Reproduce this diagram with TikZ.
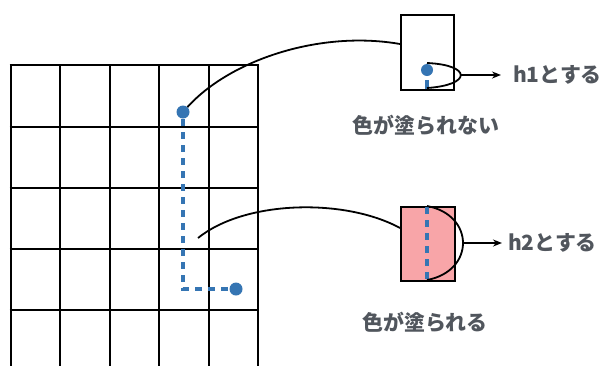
\documentclass[tikz,border=0pt]{standalone}
\usepackage{fontspec}
\newfontfamily\jp{Noto Sans CJK JP}
\usetikzlibrary{arrows.meta}
\definecolor{dotblue}{HTML}{3575B3}
\definecolor{txtgray}{HTML}{51565D}
\definecolor{pinkfill}{HTML}{F8A5A8}
\tikzset{
  gridline/.style={line width=2bp, black},
  bluedot/.style={circle, fill=dotblue, inner sep=0pt, minimum size=13bp},
  bluedash/.style={dotblue, line width=3.4bp, dash pattern=on 7bp off 6bp},
  leader/.style={line width=1.8bp, black},
  cellbox/.style={draw=black, line width=2bp, inner sep=0pt, minimum width=53bp, minimum height=75bp},
  lbl/.style={font=\jp\bfseries\fontsize{21}{23}\selectfont, text=txtgray, inner sep=0pt},
  pointer/.style={line width=1.8bp, -{Stealth[length=9bp,width=7bp]}}
}
\begin{document}
\begin{tikzpicture}[x=1bp,y=-1bp]
\useasboundingbox (0,0) rectangle (603,365);
% grid
\foreach \x in {10.7,60,109.5,159,208.5,257.5}
  \draw[gridline] (\x,65) -- (\x,366);
\foreach \y in {65,127,188,248.5,310}
  \draw[gridline] (9.7,\y) -- (258.5,\y);
% path
\coordinate (corner) at (183,289);
\draw[bluedash] (183,119) -- (corner) -- (231,289);
\node[bluedot] (d1) at (183,112) {};
\node[bluedot] (d2) at (236,289) {};
\coordinate (mid) at (198,238);
% boxes
\node[cellbox, fill=white, anchor=north west] (b1) at (400,14) {};
\node[cellbox, fill=pinkfill, anchor=north west, minimum width=54bp, minimum height=74bp] (b2) at (400,206) {};
% leaders
\coordinate (b1in) at (400,44);
\coordinate (b2in) at (400,228);
\draw[leader] (d1) .. controls (230,60) and (320,30) .. (b1in);
\draw[leader] (mid) .. controls (245,200) and (345,198) .. (b2in);
% box1 inner
\node[circle, fill=dotblue, inner sep=0pt, minimum size=12bp] (bd) at (427,70) {};
\draw[dotblue, line width=3.4bp] (427,80) -- (427,89);
\coordinate (v1) at (461,75);
\draw[leader] (427,63) .. controls (472,65) and (472,85) .. (427,88);
% box2 inner
\draw[bluedash] (427,207) -- (427,279);
\coordinate (v2) at (463,243);
\draw[leader] (427,206) .. controls (475,215) and (475,271) .. (427,280);
% labels
\node[lbl, anchor=west] (t1) at (513,75) {h1とする};
\node[lbl, anchor=west] (t2) at (508,243) {h2とする};
\draw[pointer] (v1) -- ([xshift=-12bp]t1.west);
\draw[pointer] (v2) -- ([xshift=-6bp]t2.west);
\node[lbl] (c1) at (426,125) {色が塗られない};
\node[lbl] (c2) at (425,322) {色が塗られる};
\end{tikzpicture}
\end{document}
